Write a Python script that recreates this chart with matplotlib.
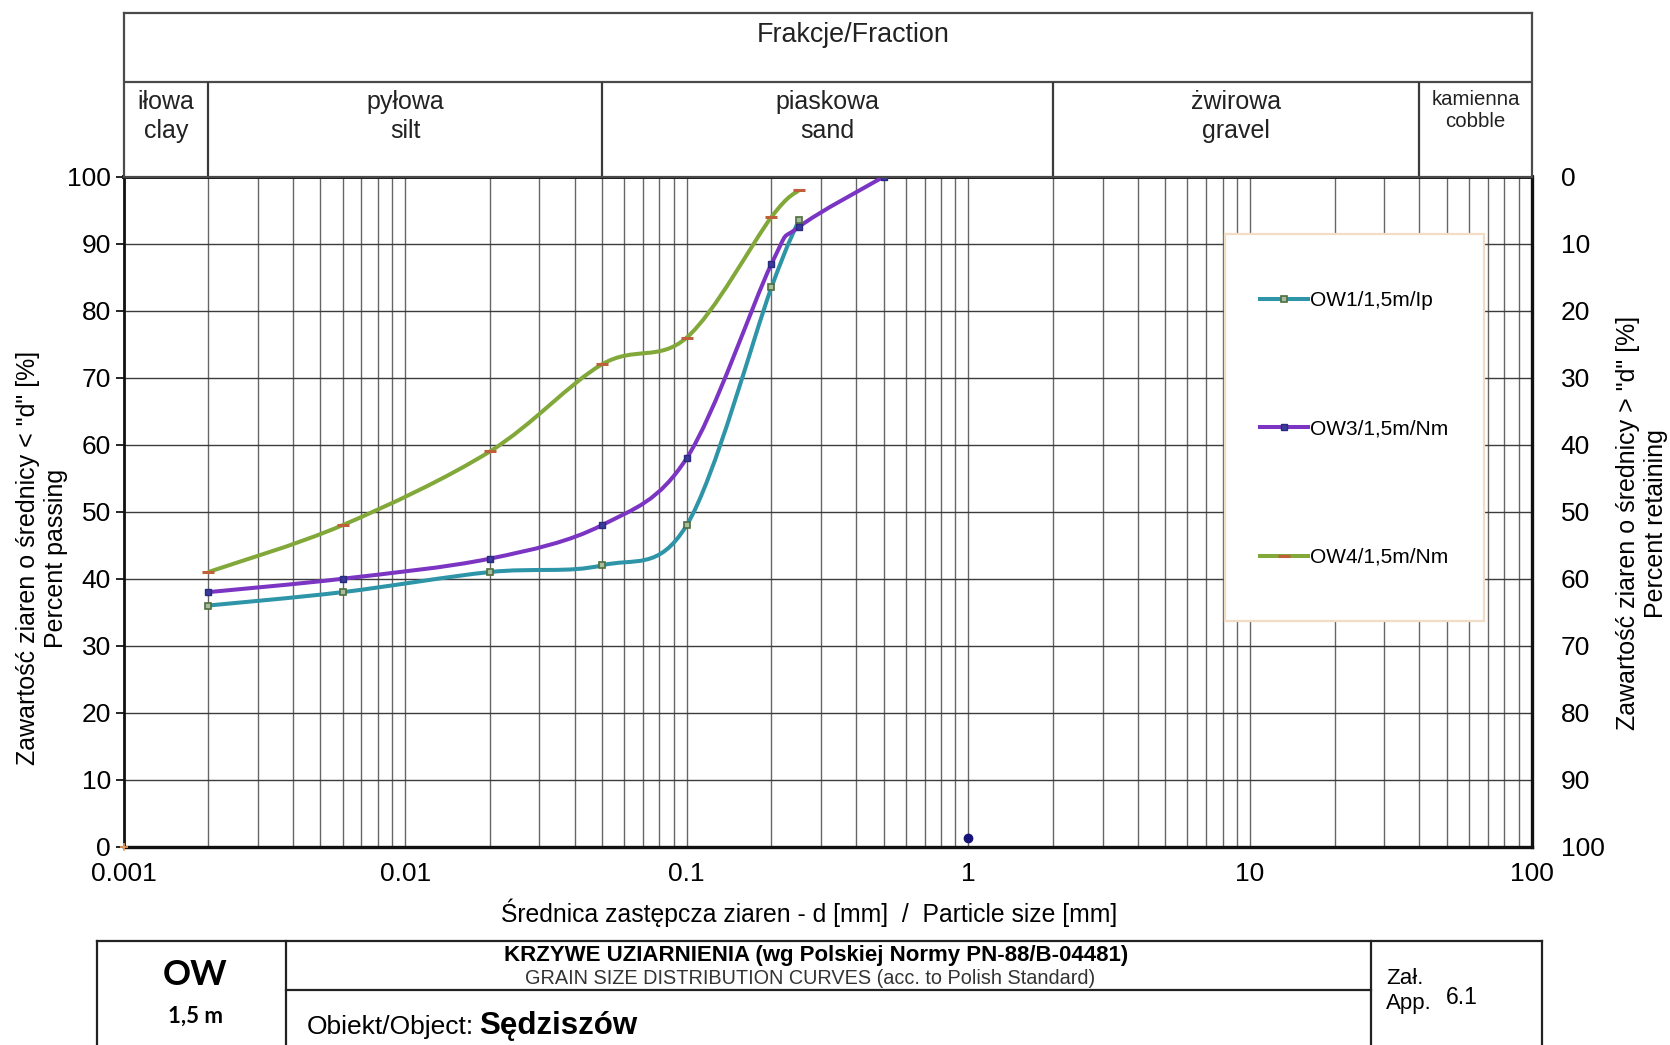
import numpy as np
import matplotlib
matplotlib.use("Agg")
import matplotlib.pyplot as plt
from matplotlib.path import Path
from matplotlib.patches import PathPatch, Rectangle
from matplotlib.lines import Line2D
from matplotlib.ticker import LogLocator, NullFormatter, NullLocator

plt.rcParams['font.family'] = ['Liberation Sans', 'DejaVu Sans']

W, H = 1670, 1045

# grain size data: d [mm] and percent passing
ow1_d = [0.002, 0.006, 0.02, 0.05, 0.1, 0.2, 0.25]
ow1_pass = [36, 38, 41, 42, 48, 83.5, 93.5]
ow3_d = [0.002, 0.006, 0.02, 0.05, 0.1, 0.2, 0.25, 0.5]
ow3_pass = [38, 40, 43, 48, 58, 87, 92.5, 100]
ow4_d = [0.002, 0.006, 0.02, 0.05, 0.1, 0.2, 0.25]
ow4_pass = [41, 48, 59, 72, 76, 94, 98]
# stray single points visible on the sheet
stray_navy_d, stray_navy_pass = [1.0], [1.3]
stray_orange_d, stray_orange_pass = [0.001], [0]

series_labels = ['OW1/1,5m/Ip', 'OW3/1,5m/Nm', 'OW4/1,5m/Nm']

# fraction table
frac_edges = [0.001, 0.002, 0.05, 2, 40, 100]
frac_pl = ['iłowa', 'pyłowa', 'piaskowa', 'żwirowa', 'kamienna']
frac_en = ['clay', 'silt', 'sand', 'gravel', 'cobble']

x_ticks = [0.001, 0.01, 0.1, 1, 10, 100]
x_tick_labels = ['0.001', '0.01', '0.1', '1', '10', '100']
y_ticks = list(range(0, 101, 10))


def fx(px):
    return px / W


def fy(py):
    return 1 - py / H


def smooth_path(xs, ys):
    # Excel-like smoothed line: Catmull-Rom segments as cubic Bezier (in log-x space)
    pts = np.column_stack([np.log10(xs), np.asarray(ys, float)])
    n = len(pts)
    verts = [pts[0]]
    codes = [Path.MOVETO]
    for i in range(n - 1):
        p0 = pts[max(i - 1, 0)]
        p1 = pts[i]
        p2 = pts[i + 1]
        p3 = pts[min(i + 2, n - 1)]
        verts += [p1 + (p2 - p0) / 6, p2 - (p3 - p1) / 6, p2]
        codes += [Path.CURVE4] * 3
    verts = np.array(verts)
    verts[:, 0] = 10 ** verts[:, 0]
    return Path(verts, codes)


fig = plt.figure(figsize=(W / 100, H / 100), dpi=100)

# main plot
ax_l, ax_r, ax_t, ax_b = 123.5, 1531.5, 176.8, 846.7
ax = fig.add_axes([fx(ax_l), fy(ax_b), fx(ax_r - ax_l), (ax_b - ax_t) / H])


def ax_x(px):
    return (px - ax_l) / (ax_r - ax_l)


def ax_y(py):
    return 1 - (py - ax_t) / (ax_b - ax_t)


ax.set_xscale('log')
ax.set_xlim(0.001, 100)
ax.set_ylim(0, 100)
ax.set_xticks(x_ticks, labels=x_tick_labels)
ax.xaxis.set_minor_locator(LogLocator(base=10, subs=np.arange(2, 10)))
ax.xaxis.set_minor_formatter(NullFormatter())
ax.set_yticks(y_ticks)
ax.tick_params(axis='x', which='both', length=0, pad=11, labelsize=19)
ax.tick_params(axis='y', length=6, width=1.2, pad=3, labelsize=19)
ax.set_axisbelow(True)
ax.grid(which='major', axis='y', color='#3c3c3c', lw=1.0)
ax.grid(which='both', axis='x', color='#666666', lw=1.0)
for side, lw in [('top', 2.8), ('right', 2.4), ('left', 2.0), ('bottom', 2.4)]:
    ax.spines[side].set_linewidth(lw)
    ax.spines[side].set_color('#111111')

styles = [
    dict(color='#2e94a8', marker='s', ms=5, mfc='#a8bca0', mec='#4e6e3e', mew=1.2),
    dict(color='#7b35c2', marker='s', ms=5, mfc='#3a3a9a', mec='#2a2a80', mew=1.0),
    dict(color='#82a83a', marker='_', ms=9, mfc='#c0603a', mec='#c0603a', mew=2.2),
]
data = [(ow1_d, ow1_pass), (ow3_d, ow3_pass), (ow4_d, ow4_pass)]
handles = []
for (d, p), st, lab in zip(data, styles, series_labels):
    ax.add_patch(PathPatch(smooth_path(d, p), fc='none', ec=st['color'], lw=2.9, zorder=3))
    ax.plot(d, p, ls='none', marker=st['marker'], ms=st['ms'], mfc=st['mfc'],
            mec=st['mec'], mew=st['mew'], zorder=4)
    handles.append(Line2D([], [], color=st['color'], lw=2.9, marker=st['marker'],
                          ms=st['ms'], mfc=st['mfc'], mec=st['mec'], mew=st['mew']))
ax.plot(stray_navy_d, stray_navy_pass, ls='none', marker='o', ms=6, color='#14147a', zorder=4)
ax.plot(stray_orange_d, stray_orange_pass, ls='none', marker='+', ms=6, color='#f0a060',
        mew=1.2, zorder=4, clip_on=False)

# legend: white box with a pale frame, entries spread over its height
ax.add_patch(Rectangle((ax_x(1225), ax_y(621)), ax_x(1484) - ax_x(1225), ax_y(234) - ax_y(621),
                       transform=ax.transAxes, fc='white', ec='#f2dcc6', lw=1.6, zorder=5))
leg = ax.legend(handles, series_labels, loc='center left',
                bbox_to_anchor=(ax_x(1260), ax_y(429)),
                borderaxespad=0, borderpad=0, fontsize=15, frameon=False,
                handlelength=2.3, handletextpad=0.1, labelspacing=5.25)
leg.set_zorder(6)

ax.set_xlabel('Średnica zastępcza ziaren - d [mm]  /  Particle size [mm]', fontsize=17.8)
ax.xaxis.set_label_coords(ax_x(809), -0.078)
ax.set_ylabel('Zawartość ziaren o średnicy < "d" [%]\nPercent passing', fontsize=18)
ax.yaxis.set_label_coords(ax_x(68), 0.431)

# right axis: percent retaining
ax2 = ax.twinx()
ax2.set_ylim(100, 0)
ax2.set_yticks(y_ticks)
ax2.tick_params(axis='y', length=0, pad=21, labelsize=19)
ax2.set_ylabel('Zawartość ziaren o średnicy > "d" [%]\nPercent retaining', fontsize=18)
ax2.yaxis.set_label_coords(ax_x(1616), 0.483)
for s in ax2.spines.values():
    s.set_visible(False)

# fraction header table
h_top = 12.8
hax = fig.add_axes([fx(ax_l), fy(ax_t), fx(ax_r - ax_l), (ax_t - h_top) / H])
hax.set_xscale('log')
hax.set_xlim(0.001, 100)
hax.set_ylim(0, 1)
hax.xaxis.set_major_locator(NullLocator())
hax.xaxis.set_minor_locator(NullLocator())
hax.yaxis.set_major_locator(NullLocator())
for s in hax.spines.values():
    s.set_linewidth(1.6)
    s.set_color('#4a4a4a')
row_split = (fy(82) - fy(ax_t)) / ((ax_t - h_top) / H)
hax.axhline(row_split, color='#4a4a4a', lw=1.6)
hax.vlines(frac_edges[1:-1], 0, row_split, color='#3a3a3a', lw=1.6)
hax.text(ax_x(853), 0.865, 'Frakcje/Fraction', transform=hax.transAxes,
         ha='center', va='center', fontsize=19.4, color='#222222')
for i, (pl, en) in enumerate(zip(frac_pl, frac_en)):
    xc = np.sqrt(frac_edges[i] * frac_edges[i + 1])
    small = (pl == 'kamienna')
    hax.text(xc, 0.405 if small else 0.368, pl + '\n' + en, ha='center', va='center',
             fontsize=14.7 if small else 18, linespacing=1.15 if small else 1.22,
             color='#222222')

# bottom title block
blk = dict(color='#222222', lw=1.6)
fig.add_artist(Line2D([fx(97), fx(1542)], [fy(940.7), fy(940.7)], **blk))
for xv in [97, 286, 1371, 1542]:
    fig.add_artist(Line2D([fx(xv), fx(xv)], [fy(940.7), fy(1045)], **blk))
fig.add_artist(Line2D([fx(286), fx(1371)], [fy(990), fy(990)], **blk))

fig.text(fx(195), fy(975), 'OW', family=['Lato', 'DejaVu Sans'], weight='bold',
         fontsize=25, ha='center', va='center')
fig.text(fx(195), fy(1016), '1,5 m', family=['Lato', 'DejaVu Sans'], weight='bold',
         fontsize=16, ha='center', va='center')
fig.text(fx(816), fy(956), 'KRZYWE UZIARNIENIA (wg Polskiej Normy PN-88/B-04481)',
         weight='bold', fontsize=16, ha='center', va='center')
fig.text(fx(810), fy(979), 'GRAIN SIZE DISTRIBUTION CURVES (acc. to Polish Standard)',
         fontsize=14.3, ha='center', va='center', color='#333333')
t_obj = fig.text(fx(307), fy(1034), 'Obiekt/Object:', fontsize=19, ha='left', va='baseline')
fig.text(fx(1386), fy(978), 'Zał.', fontsize=16, ha='left', va='center')
fig.text(fx(1386), fy(1003), 'App.', fontsize=16, ha='left', va='center')
fig.text(fx(1446), fy(998), '6.1', fontsize=16.5, ha='left', va='center')

fig.canvas.draw()
bb = t_obj.get_window_extent()
fig.text((bb.x1 + 5) / W, fy(1034), 'Sędziszów', weight='bold', fontsize=22.5,
         ha='left', va='baseline')

fig.savefig('out.png', dpi=100)
